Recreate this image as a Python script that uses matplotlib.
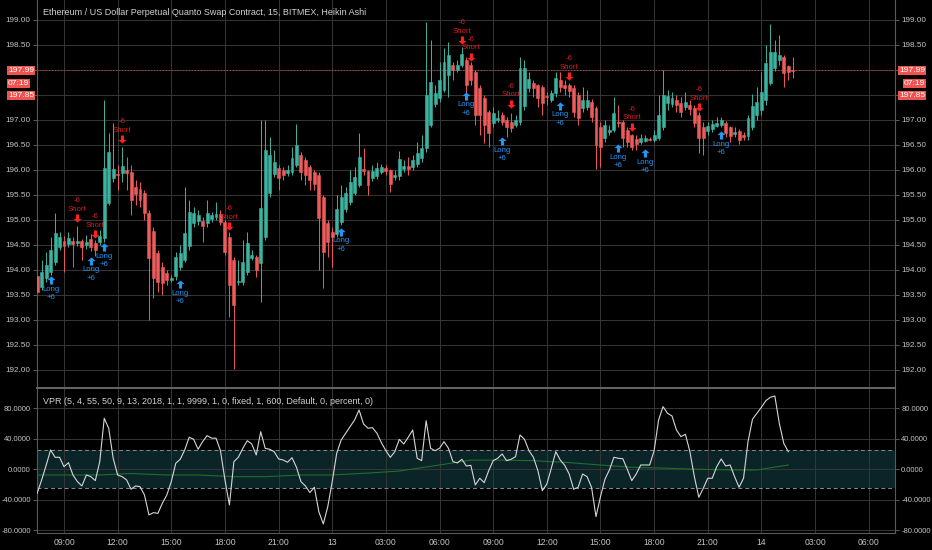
import numpy as np
import matplotlib
matplotlib.use('Agg')
import matplotlib.pyplot as plt

# Heikin Ashi candles, 15 min, first bar 07:30 (day 12)
opens = [193.87, 193.66, 193.83, 193.96, 194.16, 194.46, 194.57, 194.51, 194.57, 194.53,
         194.57, 194.50, 194.61, 194.53, 194.55, 194.63, 195.33, 195.83, 195.92, 195.93,
         196.00, 195.96, 195.66, 195.62, 195.54, 195.14, 194.78, 194.33, 194.05, 193.93,
         193.80, 193.87, 194.06, 194.19, 194.47, 194.93, 194.98, 194.97, 194.93, 195.02,
         195.05, 195.12, 194.96, 194.66, 194.19, 193.76, 193.76, 193.96, 194.24, 194.26,
         194.13, 194.66, 195.53, 195.91, 196.04, 195.99, 195.94, 195.95, 196.09, 196.29,
         196.20, 196.06, 195.95, 195.89, 195.46, 194.93, 194.76, 194.71, 194.96, 195.21,
         195.36, 195.53, 195.69, 196.01, 195.97, 195.83, 195.88, 195.96, 196.04, 195.99,
         195.85, 195.88, 196.01, 196.08, 196.06, 196.12, 196.23, 196.43, 196.89, 197.31,
         197.43, 197.59, 197.89, 198.09, 198.00, 198.09, 198.19, 198.09, 197.96, 197.64,
         197.43, 197.15, 196.93, 197.00, 197.09, 196.99, 196.96, 196.89, 196.96, 197.28,
         197.63, 197.73, 197.69, 197.66, 197.48, 197.40, 197.53, 197.79, 197.70, 197.69,
         197.64, 197.49, 197.24, 197.26, 197.36, 197.23, 196.86, 196.64, 196.75, 196.79,
         196.96, 196.96, 196.79, 196.69, 196.62, 196.56, 196.58, 196.62, 196.60, 196.63,
         196.86, 197.33, 197.32, 197.39, 197.33, 197.25, 197.30, 197.24, 197.09, 196.86,
         196.77, 196.81, 196.88, 196.90, 196.94, 196.85, 196.72, 196.78, 196.70, 196.67,
         196.86, 197.09, 197.19, 197.39, 197.74, 198.03, 198.19, 198.25, 198.08, 197.99]
closes = [193.55, 193.96, 194.09, 194.39, 194.74, 194.66, 194.47, 194.63, 194.52, 194.57,
          194.45, 194.55, 194.46, 194.39, 194.68, 196.03, 196.36, 196.01, 195.90, 196.08,
          195.93, 195.39, 195.51, 195.40, 195.14, 194.23, 193.83, 193.76, 193.74, 193.79,
          193.84, 194.26, 194.33, 194.74, 195.15, 195.14, 195.10, 194.87, 195.13, 195.10,
          195.12, 194.96, 194.36, 193.69, 193.29, 193.78, 194.16, 194.53, 194.30, 194.00,
          195.23, 196.39, 196.30, 196.16, 195.84, 195.89, 196.00, 196.23, 196.49, 195.96,
          195.90, 195.79, 195.72, 195.04, 194.36, 194.56, 194.65, 195.21, 195.46, 195.53,
          195.76, 195.86, 196.26, 195.97, 195.69, 195.97, 196.04, 196.06, 195.98, 195.71,
          195.90, 196.21, 196.08, 196.02, 196.19, 196.33, 196.43, 197.49, 197.76, 197.53,
          197.79, 198.16, 198.29, 197.99, 198.09, 198.31, 197.69, 197.79, 197.09, 197.09,
          196.89, 196.73, 197.13, 197.03, 196.96, 196.86, 196.83, 196.99, 198.03, 198.03,
          197.82, 197.63, 197.43, 197.33, 197.45, 197.53, 197.84, 197.66, 197.63, 197.57,
          197.16, 197.04, 197.39, 197.39, 197.06, 196.49, 196.46, 196.89, 196.80, 197.13,
          196.94, 196.63, 196.56, 196.46, 196.52, 196.64, 196.64, 196.60, 196.69, 197.09,
          197.49, 197.47, 197.43, 197.29, 197.16, 197.36, 197.21, 196.93, 196.63, 196.63,
          196.87, 196.91, 196.93, 196.99, 196.74, 196.67, 196.76, 196.59, 196.66, 197.03,
          197.27, 197.36, 197.56, 198.13, 198.36, 198.36, 198.29, 197.94, 197.96, 197.98]
highs = [193.90, 194.19, 194.36, 194.66, 195.13, 194.75, 194.68, 194.75, 194.66, 194.87,
         194.62, 194.70, 194.72, 194.60, 194.80, 197.39, 196.73, 196.93, 196.10, 196.45,
         196.25, 196.10, 195.80, 195.75, 195.60, 195.20, 194.85, 194.40, 194.15, 194.00,
         193.90, 194.35, 194.50, 195.66, 195.40, 195.25, 195.20, 195.05, 195.40, 195.15,
         195.35, 195.20, 195.00, 194.75, 194.25, 194.20, 194.60, 194.75, 194.40, 194.30,
         196.99, 196.99, 196.66, 196.40, 196.10, 196.05, 196.10, 196.45, 196.91, 196.35,
         196.25, 196.10, 196.00, 195.95, 195.50, 195.00, 194.85, 195.50, 195.70, 195.65,
         196.00, 196.05, 196.73, 196.43, 196.00, 196.10, 196.15, 196.12, 196.10, 196.02,
         196.00, 196.38, 196.20, 196.25, 196.30, 196.55, 196.70, 198.96, 198.59, 197.70,
         198.16, 198.43, 198.56, 198.15, 198.20, 198.45, 198.25, 198.15, 198.00, 197.70,
         197.50, 197.20, 197.25, 197.20, 197.15, 197.05, 197.13, 197.10, 198.26, 198.20,
         197.95, 197.80, 197.72, 197.70, 197.55, 197.60, 197.95, 197.95, 197.80, 197.73,
         197.70, 197.55, 197.65, 197.60, 197.42, 197.28, 196.95, 197.00, 196.90, 197.46,
         197.30, 197.00, 196.85, 196.72, 196.70, 196.72, 196.70, 196.66, 196.80, 197.50,
         198.00, 197.60, 197.55, 197.50, 197.45, 197.55, 197.40, 197.30, 197.15, 196.95,
         196.95, 197.00, 197.05, 197.05, 196.98, 196.88, 196.85, 196.82, 196.75, 197.10,
         197.52, 197.65, 197.95, 198.50, 198.91, 198.60, 198.70, 198.30, 198.10, 198.26]
lows = [193.45, 193.60, 193.75, 193.90, 194.10, 194.40, 193.96, 194.45, 194.06, 194.48,
        194.20, 194.42, 194.38, 194.28, 194.50, 194.55, 195.30, 195.75, 195.60, 195.75,
        195.60, 195.10, 195.30, 195.25, 195.00, 192.99, 193.43, 193.55, 193.50, 193.70,
        193.75, 193.80, 194.00, 194.15, 194.40, 194.85, 194.90, 194.55, 194.85, 194.95,
        195.00, 194.90, 194.30, 193.06, 192.01, 193.70, 193.70, 193.90, 194.20, 193.85,
        193.36, 194.60, 195.45, 195.85, 195.60, 195.80, 195.88, 195.90, 196.05, 195.80,
        195.70, 195.60, 195.60, 194.00, 193.63, 194.25, 194.06, 194.65, 194.90, 195.15,
        195.30, 195.50, 195.65, 195.90, 195.50, 195.78, 195.82, 195.92, 195.90, 195.55,
        195.80, 195.80, 195.95, 195.90, 196.00, 196.05, 196.15, 196.35, 196.85, 197.25,
        197.35, 197.55, 197.45, 197.80, 197.95, 198.05, 197.40, 197.70, 196.89, 196.69,
        196.53, 196.46, 196.85, 196.95, 196.90, 196.66, 196.75, 196.85, 196.90, 197.20,
        197.55, 197.45, 197.26, 197.10, 197.30, 197.35, 197.45, 197.55, 197.50, 197.45,
        197.05, 196.90, 197.15, 197.20, 196.95, 196.01, 196.06, 196.55, 196.70, 196.75,
        196.85, 196.45, 196.45, 196.40, 196.40, 196.52, 196.55, 196.57, 196.55, 196.60,
        196.80, 197.20, 197.25, 197.15, 197.05, 197.20, 197.10, 196.85, 196.33, 196.30,
        196.70, 196.75, 196.85, 196.85, 196.65, 196.55, 196.65, 196.52, 196.60, 196.60,
        196.80, 197.00, 197.10, 197.30, 197.70, 197.98, 198.10, 197.66, 197.80, 197.83]

last_price = 197.99
last_label = '197.99'
countdown = '07:19'
prev_label = '197.85'

# strategy signals: candle index and price where the arrow sits
long_idx = [3, 12, 15, 32, 68, 96, 104, 117, 130, 136, 153]
long_price = [193.79, 194.18, 194.45, 193.71, 194.76, 197.48, 196.57, 197.28, 196.43, 196.33, 196.69]
short_idx = [9, 13, 19, 43, 95, 97, 106, 119, 133, 148]
short_price = [195.03, 194.71, 196.61, 194.87, 198.59, 198.26, 197.32, 197.87, 196.86, 197.25]

# VPR oscillator (one value per candle, last candle has none)
vpr = [-31.5, -14, 5, 25.3, 15.7, 15.7, 3.4, 8.7, -7.5, -16.2,
       -21.9, -7.5, -9.7, -14.9, 10, 66.9, 53.8, 14.4, -7.5, -9.7,
       -14, -26.2, -21.9, -22.8, -33.7, -59.9, -56.9, -57.8, -44.6, -33.7,
       -16.2, 7.9, 13.1, 25.3, 42, 39.3, 26.2, 36.2, 44.1, 40.8,
       40.8, 24.4, -14, -46.8, 10, 15.7, 27.5, 37.5, 33.2, 18.8,
       49.3, 27.5, 26.2, 23.1, 13.5, 12.2, 9.2, 15.2, 2.6, -16.2,
       -21.9, -30.6, -23.6, -55.6, -71.7, -49, -16.2, 21, 38.4, 47.2,
       55.9, 64.7, 77.8, 59.4, 53.8, 54.6, 47.2, 34.9, 24.4, 15.7,
       23.1, 39.3, 33.2, 42, 51.5, 14.4, 11.3, 63.7, 27.5, 24.4,
       27.5, 36.2, 27.5, 10, 8.3, 13.1, 4.3, 5.2, -20.6, -11.8,
       -17.5, -1.8, 11.3, 14.4, 20.1, 11.3, 13.1, 16.5, 45, 39.3,
       24.4, 15.7, -1.8, -28, -19.3, 1.3, 23.1, 12.2, 5.2, -6.2,
       -26.2, -23.6, -6.2, -9.7, -23.6, -62.1, -36, -13, -0.9, 15.7,
       14.4, 13.8, 0, -14.9, -6.2, 5.6, 5.6, 5.6, 24.4, 64.7,
       82.1, 73.4, 69.9, 51.5, 42.8, 45.9, 23.1, -9.7, -36.7, -24.9,
       -11.8, -11.8, 3.4, 13.5, 4.3, 5.6, -9.7, -23.6, -11.8, 36.2,
       65.6, 73.4, 81.3, 90, 94.4, 96.1, 60.3, 34.1, 23.1]
# slow signal line, read at a few candles
sig_idx = [0, 14, 21, 29, 36, 44, 51, 59, 66, 74, 81, 90, 97, 104, 111, 119, 126, 133, 141, 148, 156, 161, 168]
sig_val = [-7.5, -7.5, -5.6, -7.5, -7.5, -9.7, -9.7, -7.5, -7.5, -5.0, -2.3, 5.6, 12, 12, 11.3, 8.7, 5.6, 2.6, 1.3, 0, -0.9, -0.9, 5.6]
band = 25

tick_hours = [9, 12, 15, 18, 21, 24, 27, 30, 33, 36, 39, 42, 45, 48, 51, 54]
tick_labels = ['09:00', '12:00', '15:00', '18:00', '21:00', '13', '03:00', '06:00',
               '09:00', '12:00', '15:00', '18:00', '21:00', '14', '03:00', '06:00']

title = 'Ethereum / US Dollar Perpetual Quanto Swap Contract, 15, BITMEX, Heikin Ashi'
vpr_title = 'VPR (5, 4, 55, 50, 9, 13, 2018, 1, 1, 9999, 1, 0, fixed, 1, 600, Default, 0, percent, 0)'

UP = '#3cb3a0'
DOWN = '#ef5a5a'
BG = '#000000'
GRID = '#363636'
TXT = '#c4c4c4'
LABEL_RED = '#ef5350'
LONG_C = '#2196f3'
SHORT_C = '#d91c1c'

plt.rcParams['font.family'] = ['Liberation Sans', 'DejaVu Sans']

t0, step = 7.5, 0.25          # hours since 00:00 of day 12
times = t0 + step * np.arange(len(opens))
xmin, xmax = 7.49, 55.47

W, H = 932, 550
fig = plt.figure(figsize=(W / 100, H / 100), dpi=100, facecolor=BG)
L, R = 37, 895
main_top, split, osc_bot = 0, 388, 533
ax = fig.add_axes([L / W, (H - split) / H, (R - L) / W, (split - main_top) / H])
ax2 = fig.add_axes([L / W, (H - osc_bot) / H, (R - L) / W, (osc_bot - split) / H])
axt = fig.add_axes([0, 0, 1, (H - osc_bot) / H], zorder=5)

for a, fs in ((ax, 5.9), (ax2, 5.5)):
    a.set_facecolor(BG)
    a.set_xlim(xmin, xmax)
    a.set_xticks(tick_hours)
    a.tick_params(axis='x', bottom=False, labelbottom=False)
    a.tick_params(axis='y', left=True, right=True, labelleft=True, labelright=True,
                  colors='#6a6a6a', labelcolor=TXT, labelsize=fs, length=3, width=0.6, pad=1.5)
    a.grid(True, color=GRID, linewidth=0.7)
    a.set_axisbelow(True)
    for s in ('top', 'bottom'):
        a.spines[s].set_visible(False)
    for s in ('left', 'right'):
        a.spines[s].set_color('#5a5a5a')
        a.spines[s].set_linewidth(0.8)
ax2.spines['top'].set_visible(True)
ax2.spines['top'].set_color('#666666')
ax2.spines['top'].set_linewidth(1.4)

# ---- candles
o = np.array(opens); c = np.array(closes)
up = c >= o
cols = np.where(up, UP, DOWN)
ax.vlines(times, lows, highs, colors=cols, linewidth=0.7, zorder=2)
ax.bar(times, c - o, bottom=o, width=step * 0.66, color=cols, edgecolor=cols,
       linewidth=0.4, zorder=3)

ax.set_ylim(191.634, 199.394)
ax.set_yticks(np.arange(192.0, 199.01, 0.5))


def price_fmt(v, pos):
    # price scale labels hidden under the last-price boxes
    if last_price - 0.6 < v < last_price + 0.05:
        return ''
    return f'{v:.2f}'


ax.yaxis.set_major_formatter(plt.FuncFormatter(price_fmt))

# last price line and labels (stacked boxes on both scales)
ax.axhline(last_price, color=LABEL_RED, linestyle=(0, (1, 2)), linewidth=0.7, alpha=0.8, zorder=1)
box = dict(boxstyle='square,pad=0.13', fc=LABEL_RED, ec='none')
yax = ax.get_yaxis_transform()
for xa, ha in ((1 + 30 / (R - L), 'right'), (-29 / (R - L), 'left')):
    for txt, dy in ((last_label, 0), (countdown, -9.4), (prev_label, -18.3)):
        ax.annotate(txt, xy=(xa, last_price), xycoords=yax,
                    xytext=(0, dy), textcoords='offset points', ha=ha, va='center',
                    fontsize=6.1, color='white', bbox=box, zorder=6, annotation_clip=False)

# signal arrows
up_arrow = [(0, 1), (1, 0.1), (0.38, 0.1), (0.38, -1), (-0.38, -1), (-0.38, 0.1), (-1, 0.1), (0, 1)]
dn_arrow = [(x, -y) for x, y in up_arrow]
lx = times[long_idx]
sx = times[short_idx]
ax.scatter(lx, long_price, marker=up_arrow, s=34, color=LONG_C, linewidths=0, zorder=5)
ax.scatter(sx, short_price, marker=dn_arrow, s=34, color='#ff2020', linewidths=0, zorder=5)
for x, y in zip(lx, long_price):
    ax.annotate('Long', (x, y), xytext=(0, -6.6), textcoords='offset points',
                ha='center', va='center', fontsize=5.6, color=LONG_C, zorder=5)
    ax.annotate('+6', (x, y), xytext=(0, -12.8), textcoords='offset points',
                ha='center', va='center', fontsize=5.6, color=LONG_C, zorder=5)
for x, y in zip(sx, short_price):
    ax.annotate('Short', (x, y), xytext=(0, 6.3), textcoords='offset points',
                ha='center', va='center', fontsize=5.6, color=SHORT_C, zorder=5)
    ax.annotate('-6', (x, y), xytext=(0, 12.4), textcoords='offset points',
                ha='center', va='center', fontsize=5.6, color=SHORT_C, zorder=5)

ax.text(0.007, 0.969, title, transform=ax.transAxes, ha='left', va='center',
        fontsize=6.5, color='#d2d2d2')

# ---- oscillator pane
ax2.axhspan(-band, band, color='#0b2428', zorder=0.5, linewidth=0)
ax2.axhline(band, color='#8a8a8a', linestyle=(0, (4, 3)), linewidth=0.7)
ax2.axhline(-band, color='#8a8a8a', linestyle=(0, (4, 3)), linewidth=0.7)
ax2.plot(times[sig_idx], sig_val, color='#1f6e2c', linewidth=0.8, zorder=3)
ax2.plot(times[:len(vpr)], vpr, color='#d6d6d6', linewidth=0.8, zorder=4)
ax2.set_ylim(-83.6, 106.6)
ax2.set_yticks([-80, -40, 0, 40, 80])
ax2.yaxis.set_major_formatter(plt.FormatStrFormatter('%.4f'))
ax2.text(0.007, 0.91, vpr_title, transform=ax2.transAxes, ha='left', va='center',
         fontsize=6.5, color='#d2d2d2')

# ---- time scale strip (covers the clipped bottom label like the original)
hpp = (xmax - xmin) / (R - L)
axt.set_facecolor(BG)
axt.set_xlim(xmin - L * hpp, xmax + (W - R) * hpp)
axt.set_ylim(0, 1)
axt.set_yticks([])
axt.set_xticks(tick_hours)
axt.set_xticklabels(tick_labels)
axt.tick_params(axis='x', length=0, pad=-8.6, labelsize=6.2, labelcolor=TXT)
for s in ('left', 'right', 'bottom'):
    axt.spines[s].set_visible(False)
axt.spines['top'].set_color('#5a5a5a')
axt.spines['top'].set_linewidth(0.8)
axt.spines['top'].set_bounds(xmin, xmax)

fig.savefig('out.png', dpi=100, facecolor=BG)
